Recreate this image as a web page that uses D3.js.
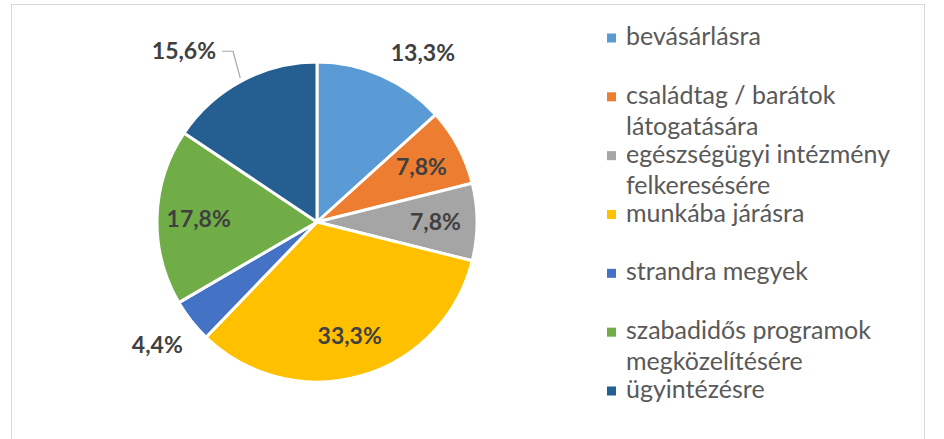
<!DOCTYPE html>
<html>
<head>
<meta charset="utf-8">
<script src="https://cdn.jsdelivr.net/npm/d3@7/dist/d3.min.js"></script>
<style>
  html, body { margin: 0; padding: 0; background: #fff; }
  svg { display: block; }
</style>
</head>
<body>
<svg id="chart" width="944" height="439"></svg>
<script>
// Categories (travel purposes) and their shares in percent
const categories = [
  "bevásárlásra",
  "családtag / barátok látogatására",
  "egészségügyi intézmény felkeresésére",
  "munkába járásra",
  "strandra megyek",
  "szabadidős programok megközelítésére",
  "ügyintézésre"
];
const values = [13.3, 7.8, 7.8, 33.3, 4.4, 17.8, 15.6];
const colors = ["#5B9BD5", "#ED7D31", "#A5A5A5", "#FFC000", "#4472C4", "#70AD47", "#255E91"];
// Where each data label sits: inside the slice or outside next to it
const labelPlacement = ["outside", "inside", "inside", "inside", "outside", "inside", "outside"];
// Labels dragged away from their default spot get a leader line
const labelShift = [[0, 0], [0, 0], [0, 0], [0, 0], [0, 0], [0, 0], [-21, -7]];

const svg = d3.select("#chart");
const W = 944, H = 439;

// Chart area frame
svg.append("rect")
  .attr("x", 11.5).attr("y", 4.5)
  .attr("width", 913).attr("height", H + 10)
  .attr("fill", "#fff")
  .attr("stroke", "#d9d9d9").attr("stroke-width", 1);

const cx = 317, cy = 222, R = 160;
const fmt = v => d3.format(".1f")(v).replace(".", ",") + "%";

const pie = d3.pie().sort(null).value(d => d.value);
const arcs = pie(values.map((v, i) => ({ value: v, i })));
const arc = d3.arc().innerRadius(0).outerRadius(R);

const g = svg.append("g").attr("transform", `translate(${cx},${cy})`);

g.selectAll("path.slice")
  .data(arcs)
  .join("path")
  .attr("class", "slice")
  .attr("d", arc)
  .attr("fill", d => colors[d.data.i])
  .attr("stroke", "#fff")
  .attr("stroke-width", 3)
  .attr("stroke-linejoin", "round");

// Data labels
const labelFont = "'Lato', 'Open Sans', sans-serif";
const midAngle = d => (d.startAngle + d.endAngle) / 2;
const pointAt = (a, r) => [Math.sin(a) * r, -Math.cos(a) * r];

arcs.forEach(d => {
  const i = d.data.i;
  const a = midAngle(d);
  const txt = g.append("text")
    .attr("font-family", labelFont)
    .attr("font-weight", 700)
    .attr("font-size", 23)
    .attr("fill", "#404040")
    .text(fmt(d.data.value));

  if (labelPlacement[i] === "inside") {
    const [x, y] = pointAt(a, R * 0.74);
    txt.attr("x", x).attr("y", y).attr("dy", "0.36em").attr("text-anchor", "middle");
  } else {
    // anchor point just beyond the rim; the label box corner touches it
    const [px, py] = pointAt(a, R + 12);
    const right = Math.sin(a) >= 0;
    const top = Math.cos(a) >= 0;
    const [sx, sy] = labelShift[i];
    const x = px + (right ? 4 : 1) + sx;
    const y = (top ? py - 4 : py + 25) + sy;
    txt.attr("x", x).attr("y", y).attr("text-anchor", right ? "start" : "end");

    if (sx !== 0 || sy !== 0) {
      const bb = txt.node().getBBox();
      const lx0 = right ? bb.x - 6 : bb.x + bb.width + 6;
      const ly = y - 8;
      const elbow = right ? lx0 - 11 : lx0 + 11;
      const [ex, ey] = pointAt(a, R + 3);
      g.append("polyline")
        .attr("points", `${lx0},${ly} ${elbow},${ly} ${ex},${ey}`)
        .attr("fill", "none")
        .attr("stroke", "#a6a6a6")
        .attr("stroke-width", 1.2);
    }
  }
});

// Legend
const legendFont = "'Lato', 'Open Sans', sans-serif";
const legendY = d3.scaleLinear().domain([0, categories.length - 1]).range([38, 391]);
const legendX = 607, legendTextX = 626, legendMaxWidth = 290, lineGap = 31;

const legend = svg.append("g");
categories.forEach((name, i) => {
  const y = legendY(i);
  legend.append("rect")
    .attr("x", legendX).attr("y", y - 4.5)
    .attr("width", 9).attr("height", 9)
    .attr("fill", colors[i]);

  const t = legend.append("text")
    .attr("font-family", legendFont)
    .attr("font-size", 25)
    .attr("fill", "#595959");

  // wrap words into lines no wider than the legend column
  const words = name.split(" ");
  let line = [], lines = [];
  const probe = t.append("tspan");
  words.forEach(w => {
    const trial = line.concat([w]).join(" ");
    probe.text(trial);
    if (probe.node().getComputedTextLength() > legendMaxWidth && line.length) {
      lines.push(line.join(" "));
      line = [w];
    } else {
      line.push(w);
    }
  });
  lines.push(line.join(" "));
  probe.remove();

  lines.forEach((ln, k) => {
    t.append("tspan")
      .attr("x", legendTextX)
      .attr("y", y + 7 + k * lineGap)
      .text(ln);
  });
});
</script>
</body>
</html>
